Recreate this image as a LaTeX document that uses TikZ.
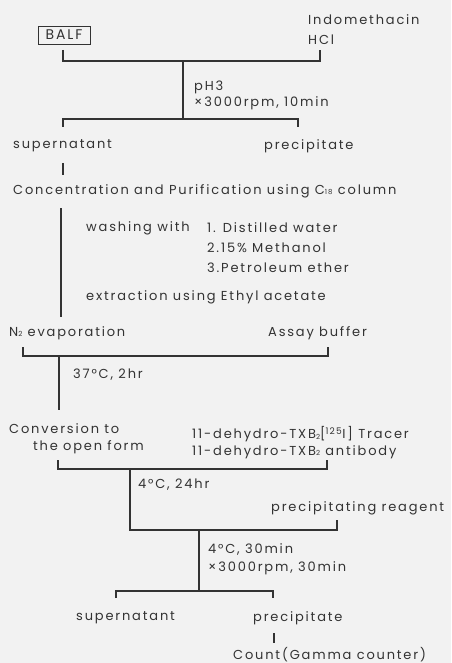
\documentclass[tikz,border=0pt]{standalone}
\usepackage{fontspec}
\setmainfont{Poppins}[LetterSpace=14]
\definecolor{ink}{HTML}{333333}
\definecolor{bg}{HTML}{F2F2F2}
\tikzset{
  txt/.style={font=\fontsize{13}{15}\selectfont, text=ink, inner sep=0pt, anchor=west},
  ln/.style={draw=ink, line width=1.2pt},
}
\newcommand{\lowsub}[1]{\raisebox{-0.05em}{\scriptsize #1}}
\begin{document}
\begin{tikzpicture}[x=1pt,y=-1pt]
\fill[bg] (0,0) rectangle (451,663);
\useasboundingbox (0,0) rectangle (451,663);
% texts
\node[txt,anchor=center,draw=ink,line width=0.9pt,minimum width=52pt,minimum height=18pt,font=\fontsize{14}{16}\selectfont] (balf) at (64,35) {BALF};
\node[txt] (indo) at (308,20) {Indomethacin};
\node[txt] (hcl) at (308,40) {HCl};
\node[txt] (ph) at (194,87) {pH3};
\node[txt] (rpm1) at (194,103) {×3000rpm, 10min};
\node[txt] (sup1) at (13,146) {supernatant};
\node[txt] (pre1) at (264,146) {precipitate};
\node[txt] (conc) at (13,191) {Concentration and Purification using C\lowsub{18} column};
\node[txt] (wash) at (86,228) {washing with};
\node[txt] (w1) at (207,228) {1. Distilled water};
\node[txt] (w2) at (207,248) {2.15\% Methanol};
\node[txt] (w3) at (207,268) {3.Petroleum ether};
\node[txt] (extr) at (86,297) {extraction using Ethyl acetate};
\node[txt] (evap) at (9,333) {N\lowsub{2} evaporation};
\node[txt] (assay) at (268,333) {Assay buffer};
\node[txt] (t37) at (73,375) {37°C, 2hr};
\node[txt] (conv1) at (9,429) {Conversion to};
\node[txt] (conv2) at (33,447) {the open form};
\node[txt] (trac) at (192,434) {11-dehydro-TXB\lowsub{2}[\textsuperscript{125}I] Tracer};
\node[txt] (anti) at (192,452) {11-dehydro-TXB\lowsub{2} antibody};
\node[txt] (t24) at (138,485) {4°C, 24hr};
\node[txt] (preg) at (271,508) {precipitating reagent};
\node[txt] (t30) at (208,549) {4°C, 30min};
\node[txt] (rpm2) at (208,568) {×3000rpm, 30min};
\node[txt] (sup2) at (76,618) {supernatant};
\node[txt] (pre2) at (253,618) {precipitate};
\node[txt] (count) at (233,655) {Count(Gamma counter)};
% coordinates
\coordinate (a1) at (63,50);  \coordinate (a2) at (63,61);
\coordinate (a3) at (320,61); \coordinate (a4) at (320,50);
\coordinate (ac) at (183,61); \coordinate (ad) at (183,119);
\coordinate (b1) at (63,127); \coordinate (b2) at (63,119);
\coordinate (b3) at (298,119); \coordinate (b4) at (298,127);
\coordinate (s1) at (63,163); \coordinate (s2) at (63,175);
\coordinate (l1) at (61,208); \coordinate (l2) at (61,317);
\coordinate (c1) at (23,347); \coordinate (c2) at (23,356);
\coordinate (c3) at (328,356); \coordinate (c4) at (328,347);
\coordinate (cc) at (59,356); \coordinate (cd) at (59,410);
\coordinate (d1) at (58,460); \coordinate (d2) at (58,469);
\coordinate (d3) at (327,469); \coordinate (d4) at (327,460);
\coordinate (dc) at (130,469); \coordinate (dd) at (130,530);
\coordinate (e2) at (337,530); \coordinate (e1) at (337,520);
\coordinate (ec) at (199,530); \coordinate (ed) at (199,591);
\coordinate (f1) at (116,598); \coordinate (f2) at (116,591);
\coordinate (f3) at (273,591); \coordinate (f4) at (273,598);
\coordinate (g1) at (274,633); \coordinate (g2) at (274,643);
% lines
\draw[ln] (a1) -- (a2) -- (a3) -- (a4);
\draw[ln] (ac) -- (ad);
\draw[ln] (b1) -- (b2) -- (b3) -- (b4);
\draw[ln] (s1) -- (s2);
\draw[ln] (l1) -- (l2);
\draw[ln] (c1) -- (c2) -- (c3) -- (c4);
\draw[ln] (cc) -- (cd);
\draw[ln] (d1) -- (d2) -- (d3) -- (d4);
\draw[ln] (dc) -- (dd) -- (e2) -- (e1);
\draw[ln] (ec) -- (ed);
\draw[ln] (f1) -- (f2) -- (f3) -- (f4);
\draw[ln] (g1) -- (g2);
\end{tikzpicture}
\end{document}
